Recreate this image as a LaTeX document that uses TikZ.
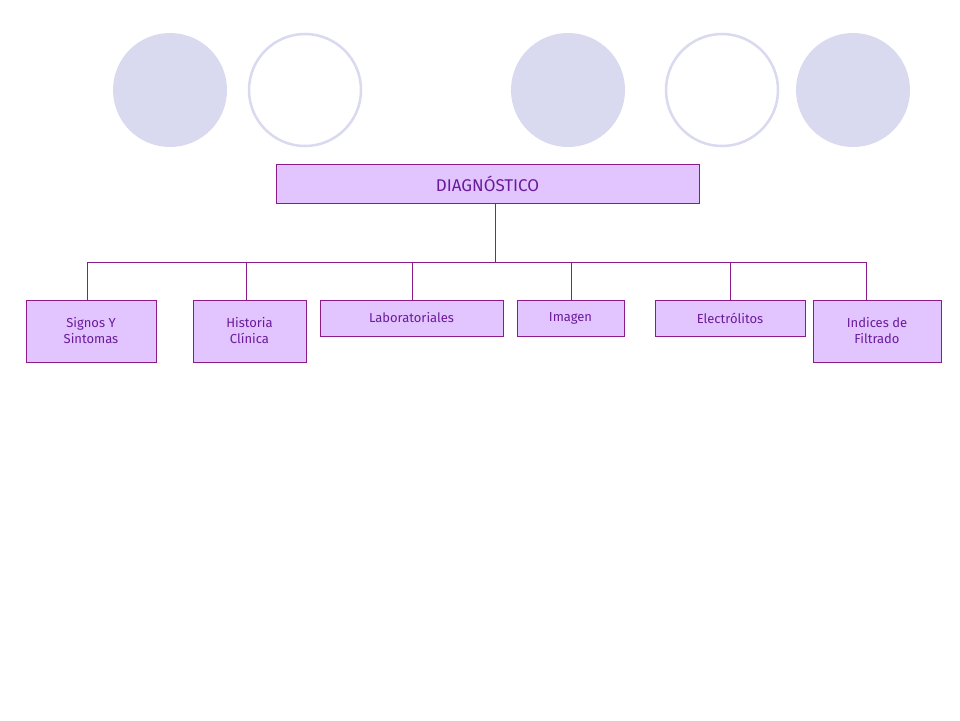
\documentclass[tikz,border=0pt]{standalone}
\usepackage{fontspec}
\setmainfont{Fira Sans}
\definecolor{circ}{HTML}{D9D9EF}
\definecolor{boxf}{HTML}{E2C4FF}
\definecolor{boxd}{HTML}{8B1A8B}
\definecolor{txt}{HTML}{6A1B9A}
\begin{document}
\begin{tikzpicture}[x=1pt,y=-1pt,
  fc/.style={fill=circ,draw=none},
  oc/.style={draw=circ,line width=2.5pt,fill=white},
  bx/.style={draw=boxd,fill=boxf,line width=0.6pt,text=txt,font=\fontsize{13}{16}\selectfont,align=center,inner sep=0pt},
  ln/.style={draw=boxd,line width=0.6pt}]
\useasboundingbox[fill=white] (0,0) rectangle (960,720);
\fill[fc] (170,90) circle (57);
\draw[oc] (305,90) circle (56);
\fill[fc] (568,90) circle (57);
\draw[oc] (722,90) circle (56);
\fill[fc] (853,90) circle (57);
\node[bx,minimum width=423pt,minimum height=39pt,font=\fontsize{17}{20}\selectfont] (d) at (487.5,183.5) {DIAGNÓSTICO};
\node[bx,minimum width=130pt,minimum height=62pt] (a) at (91,331) {Signos Y\\Sintomas};
\node[bx,minimum width=113pt,minimum height=62pt] (b) at (249.5,331) {Historia\\Clínica};
\node[bx,minimum width=183pt,minimum height=36pt] (c) at (411.5,318) {Laboratoriales};
\node[bx,minimum width=107pt,minimum height=36pt] (e) at (570.5,318) {Imagen};
\node[bx,minimum width=150pt,minimum height=36pt] (f) at (730,318) {Electrólitos};
\node[bx,minimum width=128pt,minimum height=62pt] (g) at (877,331) {Indices de\\Filtrado};
\coordinate (j) at (495,262);
\draw[ln] (d.south -| j) -- (j);
\draw[ln] (87,262) -- (866,262);
\draw[ln] (87,262) -- (a.north -| 87,0);
\draw[ln] (246,262) -- (b.north -| 246,0);
\draw[ln] (412,262) -- (c.north -| 412,0);
\draw[ln] (571,262) -- (e.north -| 571,0);
\draw[ln] (730,262) -- (f.north -| 730,0);
\draw[ln] (866,262) -- (g.north -| 866,0);
\end{tikzpicture}
\end{document}
